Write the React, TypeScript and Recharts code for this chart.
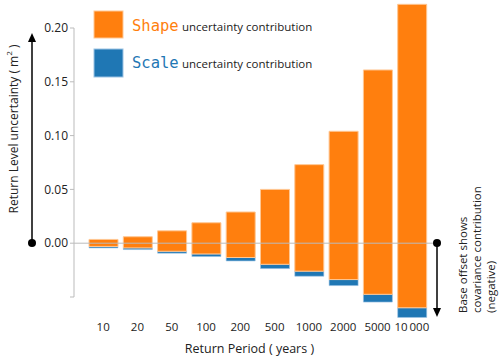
import { BarChart, Bar, XAxis, YAxis, ReferenceLine } from 'recharts';

// return periods (years)
const periods = ['10', '20', '50', '100', '200', '500', '1000', '2000', '5000', '10\u2009000'];
// contributions to return level uncertainty (m²)
const shape = [0.0065, 0.0104, 0.019, 0.029, 0.0423, 0.0696, 0.099, 0.1378, 0.2085, 0.282];
const scale = [0.0014, 0.0015, 0.0018, 0.0024, 0.0032, 0.004, 0.0047, 0.0056, 0.0072, 0.009];
const covariance = [-0.0044, -0.0059, -0.0093, -0.0124, -0.0165, -0.0236, -0.0307, -0.0394, -0.0547, -0.069];
const yTicks = [-0.05, 0, 0.05, 0.1, 0.15, 0.2];

const data = periods.map((p, i) => ({
  period: p,
  scaleRange: [covariance[i], covariance[i] + scale[i]],
  shapeRange: [covariance[i] + scale[i], covariance[i] + scale[i] + shape[i]],
}));

const ORANGE = '#ff7f0e';
const BLUE = '#1f77b4';
const TEXT = '#222';
const FONT = '"Open Sans", sans-serif';

export default function App() {
  return (
    <div style={{ position: 'relative', width: 500, height: 357 }}>
      <style>{`body { margin: 0; } .recharts-wrapper g { clip-path: none !important; }`}</style>
      <BarChart width={500} height={357} data={data} margin={{ top: 28, right: 63, bottom: 0, left: 0 }}>
        <XAxis
          xAxisId="a"
          dataKey="period"
          height={60}
          axisLine={false}
          tickLine={false}
          tickSize={0}
          tickMargin={26}
          padding={{ left: 12, right: 8 }}
          tick={{ fill: TEXT, fontSize: 11.5, fontFamily: FONT }}
          interval={0}
          label={{ value: 'Return Period ( years )', position: 'insideBottom', offset: 4, dx: -6, fill: TEXT, fontSize: 12.5, fontFamily: FONT }}
        />
        <XAxis xAxisId="b" dataKey="period" hide padding={{ left: 12, right: 8 }} />
        <YAxis
          width={74}
          type="number"
          domain={[-0.05, 0.2]}
          allowDataOverflow
          ticks={yTicks}
          tickFormatter={(v: number) => (v < 0 ? '' : v.toFixed(2))}
          stroke="#bbb"
          tickSize={4}
          tickMargin={2}
          tick={{ fill: TEXT, fontSize: 12, fontFamily: FONT }}
        />
        <ReferenceLine xAxisId="a" y={0} stroke="#bbb" strokeWidth={1} />
        <Bar xAxisId="b" dataKey="scaleRange" fill={BLUE} stroke="#9cc3e4" strokeWidth={0.6} barSize={29} isAnimationActive={false} />
        <Bar xAxisId="a" dataKey="shapeRange" fill={ORANGE} stroke="#ffc793" strokeWidth={1} barSize={29} isAnimationActive={false} />
      </BarChart>
      <svg width={500} height={357} style={{ position: 'absolute', left: 0, top: 0, pointerEvents: 'none' }}>
        {/* legend */}
        <rect x={94} y={11} width={29} height={27} fill={ORANGE} stroke="#ffc793" />
        <rect x={94} y={49} width={29} height={28} fill={BLUE} stroke="#9cc3e4" />
        <text x={132} y={31} fill={ORANGE} fontSize={15.5} fontFamily='"DejaVu Sans Mono", monospace'>Shape</text>
        <text x={182} y={31} fill={TEXT} fontSize={11.5} fontFamily={FONT}>uncertainty contribution</text>
        <text x={132} y={68} fill={BLUE} fontSize={15.5} fontFamily='"DejaVu Sans Mono", monospace'>Scale</text>
        <text x={182} y={68} fill={TEXT} fontSize={11.5} fontFamily={FONT}>uncertainty contribution</text>
        {/* left arrow + axis title */}
        <line x1={32} y1={243} x2={32} y2={40} stroke="#000" strokeWidth={1.5} />
        <polygon points="32,33 28,42 36,42" fill="#000" />
        <circle cx={32} cy={243} r={4} fill="#000" />
        <text x={13} y={129} transform="rotate(-90 13 129)" textAnchor="middle" dominantBaseline="central" fill={TEXT} fontSize={12} fontFamily={FONT}>
          Return Level uncertainty ( m<tspan dy={-5} fontSize={8}>2</tspan><tspan dy={5}> )</tspan>
        </text>
        {/* right arrow + note */}
        <line x1={437} y1={243} x2={437} y2={310} stroke="#000" strokeWidth={1.5} />
        <polygon points="437,317 433,308 441,308" fill="#000" />
        <circle cx={437} cy={243} r={4} fill="#000" />
        {['Base offset shows', 'covariance contribution', '(negative)'].map((t, i) => (
          <text key={t} x={462 + i * 14} y={313} transform={`rotate(-90 ${462 + i * 14} 313)`} dominantBaseline="central" fill={TEXT} fontSize={11.5} fontFamily={FONT}>
            {t}
          </text>
        ))}
      </svg>
    </div>
  );
}
